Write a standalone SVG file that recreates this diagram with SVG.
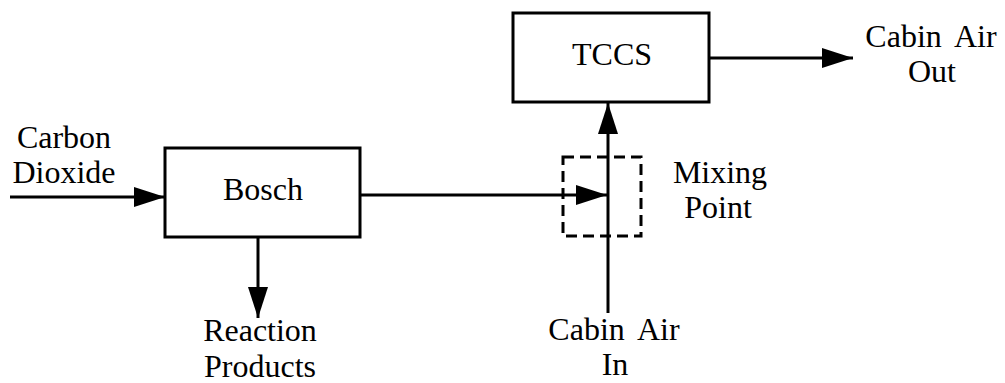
<svg xmlns="http://www.w3.org/2000/svg" width="1005" height="383" viewBox="0 0 1005 383">
<style>
.box{fill:#fff;stroke:#000;stroke-width:3}
.ln{fill:none;stroke:#000;stroke-width:3}
.dash{fill:none;stroke:#000;stroke-width:3;stroke-dasharray:11 6}
text{font-family:"Liberation Serif","Times New Roman",serif;font-size:32px;fill:#000;text-anchor:middle}
</style>
<defs>
<marker id="ah" markerUnits="userSpaceOnUse" markerWidth="32" markerHeight="22" refX="31" refY="10" orient="auto" viewBox="0 0 32 20">
<path d="M0,0 L31,10 L0,20 Z" fill="#000"/>
</marker>
</defs>
<g id="connectors">
<line class="ln" x1="10" y1="197" x2="165" y2="197" marker-end="url(#ah)"/>
<line class="ln" x1="360" y1="195" x2="607" y2="195" marker-end="url(#ah)"/>
<line class="ln" x1="258" y1="237" x2="258" y2="318" marker-end="url(#ah)"/>
<line class="ln" x1="608" y1="313" x2="608" y2="103" marker-end="url(#ah)"/>
<line class="ln" x1="709" y1="58" x2="853" y2="58" marker-end="url(#ah)"/>
</g>
<g id="bosch">
<rect class="box" x="165" y="148" width="195" height="89"/>
<text x="263" y="200">Bosch</text>
</g>
<g id="tccs">
<rect class="box" x="513" y="13" width="196" height="89"/>
<text x="612" y="65">TCCS</text>
</g>
<g id="mixing">
<rect class="dash" x="563" y="157" width="78" height="79"/>
<text x="720" y="183">Mixing</text>
<text x="718" y="218">Point</text>
</g>
<g id="co2">
<text x="64" y="148">Carbon</text>
<text x="64" y="183">Dioxide</text>
</g>
<g id="reaction">
<text x="260" y="341">Reaction</text>
<text x="260" y="377">Products</text>
</g>
<g id="cabin-in">
<text x="614" y="340" style="word-spacing:6px">Cabin Air</text>
<text x="615" y="375">In</text>
</g>
<g id="cabin-out">
<text x="931" y="47" style="word-spacing:6px">Cabin Air</text>
<text x="932" y="82">Out</text>
</g>
</svg>
